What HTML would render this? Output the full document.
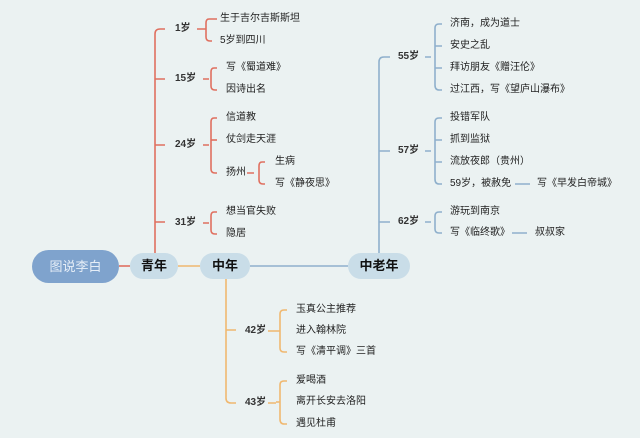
<!DOCTYPE html>
<html><head><meta charset="utf-8"><style>
body{margin:0;width:640px;height:438px;background:#ebf2f2;position:relative;overflow:hidden;font-family:"Liberation Sans","Noto Sans CJK SC",sans-serif;}
.t{position:absolute;font-size:10px;color:#222;white-space:nowrap;transform:translateY(-50%);line-height:12px;}
.a{font-weight:bold;color:#333;}
.p{position:absolute;border-radius:14px;background:#c9dde8;font-weight:bold;font-size:13px;color:#111;text-align:center;}
svg{position:absolute;left:0;top:0;}
</style></head><body>
<svg width="640" height="438" fill="none" stroke-width="1.6">
<!-- red -->
<g stroke="#e07060">
<path d="M119 266H130"/>
<path d="M155 253V34Q155 29 160 29H165"/>
<path d="M155 79H165M155 145H165M155 222H165"/>
<path d="M197 29H203M209 19Q206 19 206 23V37Q206 41 210 41H212M206 29H203"/>
<path d="M203 79H209M214 68Q211 68 211 72V86Q211 90 215 90H217"/>
<path d="M203 145H209M214 118Q211 118 211 122V169Q211 173 215 173H217"/>
<path d="M211 140H217"/>
<path d="M247 173H254M262 162Q259 162 259 166V180Q259 184 263 184H265"/>
<path d="M203 223H209M214 212Q211 212 211 216V230Q211 234 215 234H217"/>
<path d="M217 68H214M217 118H214M217 19H209M265 162H262M217 212H214"/>
</g>
<!-- orange -->
<g stroke="#f0b870">
<path d="M178 266H200"/>
<path d="M226 279V398Q226 403 231 403H236M226 330H236"/>
<path d="M268 331H276M284 310Q280 310 280 314V348Q280 352 284 352H287M280 331H276M287 310H284"/>
<path d="M268 403H276M284 381Q280 381 280 385V419Q280 424 284 424H287M280 402H276M287 381H284"/>
</g>
<!-- blue -->
<g stroke="#8fb0cc">
<path d="M250 266H348"/>
<path d="M379 253V62Q379 57 384 57H390M379 151H390M379 222H390"/>
<path d="M425 57H431M439 24Q435 24 435 28V85Q435 90 439 90H442M435 46H442M435 68H442M442 24H439"/>
<path d="M425 151H431M439 118Q435 118 435 122V179Q435 184 439 184H442M435 140H442M435 162H442M442 118H439"/>
<path d="M425 222H431M439 212Q435 212 435 216V229Q435 233 439 233H442M442 212H439"/>
<path d="M515 184H530M512 233H527"/>
</g>
</svg>
<div class="p" style="left:32px;top:250px;width:87px;height:33px;line-height:33px;background:#7fa3cd;color:#e6eef7;font-weight:normal;border-radius:17px;font-size:13px;">图说李白</div>
<div class="p" style="left:130px;top:253px;width:48px;height:26px;line-height:26px;">青年</div>
<div class="p" style="left:200px;top:253px;width:50px;height:26px;line-height:26px;">中年</div>
<div class="p" style="left:348px;top:253px;width:62px;height:26px;line-height:26px;">中老年</div>

<div class="t a" style="left:175px;top:29px">1岁</div>
<div class="t" style="left:220px;top:19px">生于吉尔吉斯斯坦</div>
<div class="t" style="left:220px;top:41px">5岁到四川</div>
<div class="t a" style="left:175px;top:79px">15岁</div>
<div class="t" style="left:226px;top:68px">写《蜀道难》</div>
<div class="t" style="left:226px;top:90px">因诗出名</div>
<div class="t a" style="left:175px;top:145px">24岁</div>
<div class="t" style="left:226px;top:118px">信道教</div>
<div class="t" style="left:226px;top:140px">仗剑走天涯</div>
<div class="t" style="left:226px;top:173px">扬州</div>
<div class="t" style="left:275px;top:162px">生病</div>
<div class="t" style="left:275px;top:184px">写《静夜思》</div>
<div class="t a" style="left:175px;top:223px">31岁</div>
<div class="t" style="left:226px;top:212px">想当官失败</div>
<div class="t" style="left:226px;top:234px">隐居</div>

<div class="t a" style="left:245px;top:331px">42岁</div>
<div class="t" style="left:296px;top:310px">玉真公主推荐</div>
<div class="t" style="left:296px;top:331px">进入翰林院</div>
<div class="t" style="left:296px;top:352px">写《清平调》三首</div>
<div class="t a" style="left:245px;top:403px">43岁</div>
<div class="t" style="left:296px;top:381px">爱喝酒</div>
<div class="t" style="left:296px;top:402px">离开长安去洛阳</div>
<div class="t" style="left:296px;top:424px">遇见杜甫</div>

<div class="t a" style="left:398px;top:57px">55岁</div>
<div class="t" style="left:450px;top:24px">济南，成为道士</div>
<div class="t" style="left:450px;top:46px">安史之乱</div>
<div class="t" style="left:450px;top:68px">拜访朋友《赠汪伦》</div>
<div class="t" style="left:450px;top:90px">过江西，写《望庐山瀑布》</div>
<div class="t a" style="left:398px;top:151px">57岁</div>
<div class="t" style="left:450px;top:118px">投错军队</div>
<div class="t" style="left:450px;top:140px">抓到监狱</div>
<div class="t" style="left:450px;top:162px">流放夜郎（贵州）</div>
<div class="t" style="left:450px;top:184px">59岁，被赦免</div>
<div class="t" style="left:537px;top:184px">写《早发白帝城》</div>
<div class="t a" style="left:398px;top:222px">62岁</div>
<div class="t" style="left:450px;top:212px">游玩到南京</div>
<div class="t" style="left:450px;top:233px">写《临终歌》</div>
<div class="t" style="left:535px;top:233px">叔叔家</div>
</body></html>
